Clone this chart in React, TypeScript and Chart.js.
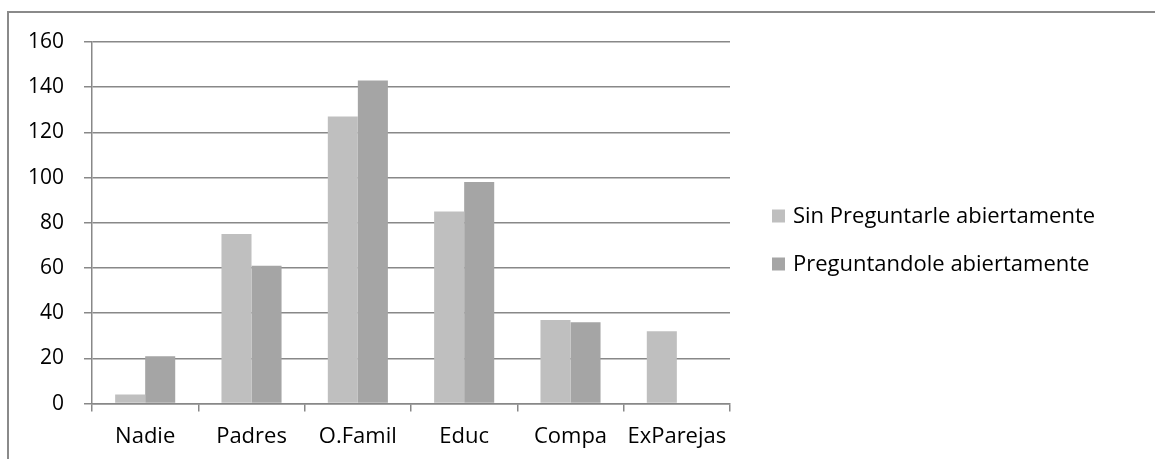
import React, { useEffect, useRef } from "react";
import { Chart, registerables } from "chart.js";

Chart.register(...registerables);

const categories = ["Nadie", "Padres", "O.Famil", "Educ", "Compa", "ExParejas"];
const sinPreguntar = [4, 75, 127, 85, 37, 32];
const preguntando = [21, 61, 143, 98, 36, 0];
const seriesNames = ["Sin Preguntarle abiertamente", "Preguntandole abiertamente"];
const yTicks = [0, 20, 40, 60, 80, 100, 120, 140, 160];

const FONT = "'Open Sans', sans-serif";
const GRID = "#888888";

const sideLegend = {
  id: "sideLegend",
  afterDraw(chart: any) {
    const ctx = chart.ctx;
    const x = chart.chartArea.right + 42;
    const y0 = 216;
    const step = 48;
    ctx.save();
    ctx.font = `22px ${FONT}`;
    ctx.textBaseline = "middle";
    ctx.textAlign = "left";
    chart.data.datasets.forEach((ds: any, i: number) => {
      const cy = y0 + i * step;
      ctx.fillStyle = ds.backgroundColor;
      ctx.fillRect(x, cy - 6.5, 13, 13);
      ctx.fillStyle = "#000";
      ctx.fillText(ds.label, x + 21, cy + 1);
    });
    ctx.restore();
  },
};

export default function App() {
  const ref = useRef<HTMLCanvasElement | null>(null);

  useEffect(() => {
    if (!ref.current) return;
    const chart = new Chart(ref.current, {
      type: "bar",
      data: {
        labels: categories,
        datasets: [
          {
            label: seriesNames[0],
            data: sinPreguntar,
            backgroundColor: "#bfbfbf",
            borderWidth: 0,
          },
          {
            label: seriesNames[1],
            data: preguntando,
            backgroundColor: "#a5a5a5",
            borderWidth: 0,
          },
        ],
      },
      options: {
        animation: false,
        responsive: false,
        maintainAspectRatio: false,
        layout: { padding: { left: 8, top: 42, right: 425, bottom: -3 } },
        datasets: { bar: { categoryPercentage: 0.565, barPercentage: 1 } },
        scales: {
          x: {
            grid: {
              display: true,
              drawOnChartArea: false,
              drawTicks: true,
              tickLength: 8,
              color: GRID,
              lineWidth: 1.5,
              offset: true,
            },
            border: { display: true, color: GRID, width: 1.5 },
            ticks: {
              color: "#000",
              font: { family: FONT, size: 22 },
              padding: 12,
              maxRotation: 0,
            },
          },
          y: {
            min: 0,
            max: 160,
            afterBuildTicks: (axis: any) => {
              axis.ticks = yTicks.map((v) => ({ value: v }));
            },
            grid: {
              color: GRID,
              lineWidth: 1.5,
              tickLength: 8,
            },
            border: { display: true, color: GRID, width: 1.5 },
            ticks: {
              color: "#000",
              font: { family: FONT, size: 21 },
              padding: 20,
            },
          },
        },
        plugins: {
          tooltip: { enabled: false },
          legend: { display: false },
        },
      },
      plugins: [sideLegend],
    });
    return () => chart.destroy();
  }, []);

  return (
    <div
      style={{
        position: "fixed",
        left: 0,
        top: 0,
        width: 1155,
        height: 459,
        overflow: "hidden",
        background: "#fff",
      }}
    >
      <div
        style={{
          position: "absolute",
          left: 7,
          top: 11,
          width: 3000,
          height: 3000,
          border: "2px solid #8a8a8a",
        }}
      />
      <canvas
        ref={ref}
        width={1155}
        height={459}
        style={{ position: "absolute", left: 0, top: 0, width: 1155, height: 459 }}
      />
    </div>
  );
}
